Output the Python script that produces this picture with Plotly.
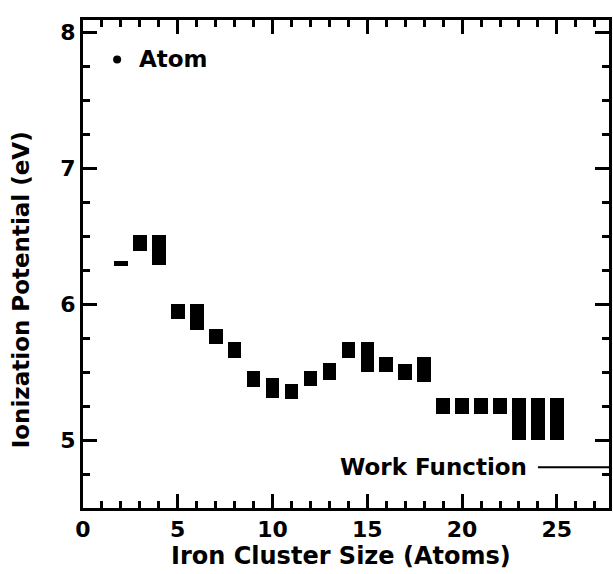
import plotly.graph_objects as go

# Data
cluster_size = [2, 3, 4, 5, 6, 7, 8, 9, 10, 11, 12, 13, 14, 15, 16, 17, 18, 19, 20, 21, 22, 23, 24, 25]
ip_low = [6.28, 6.39, 6.29, 5.89, 5.81, 5.71, 5.60, 5.39, 5.31, 5.30, 5.40, 5.445, 5.60, 5.50, 5.50, 5.44, 5.43,
          5.19, 5.19, 5.19, 5.19, 5.00, 5.00, 5.00]
ip_high = [6.32, 6.51, 6.51, 6.00, 6.00, 5.82, 5.72, 5.51, 5.46, 5.41, 5.51, 5.57, 5.72, 5.72, 5.61, 5.56, 5.61,
           5.31, 5.31, 5.31, 5.31, 5.31, 5.31, 5.31]
atom_marker_x = [1.8]
atom_marker_y = [7.80]
atom_label = "Atom"
work_function = 4.80
work_function_x = [24.0, 27.75]
work_function_label = "Work Function"
x_ticks = [0, 5, 10, 15, 20, 25]
y_ticks = [5, 6, 7, 8]
x_range = [0, 27.75]
y_range = [4.5, 8.09]

FONT = "DejaVu Sans"

fig = go.Figure()

fig.add_trace(go.Bar(
    x=cluster_size,
    y=[h - l for h, l in zip(ip_high, ip_low)],
    base=ip_low,
    width=0.72,
    marker=dict(color="black", line=dict(width=0)),
    showlegend=False,
))

fig.add_trace(go.Scatter(
    x=atom_marker_x, y=atom_marker_y, mode="markers",
    marker=dict(color="black", size=8), showlegend=False,
))

fig.add_trace(go.Scatter(
    x=work_function_x, y=[work_function] * len(work_function_x), mode="lines",
    line=dict(color="black", width=2), showlegend=False, cliponaxis=False,
))

fig.add_annotation(x=2.83, y=atom_marker_y[0], xref="x", yref="y", text=f"<b>{atom_label}</b>",
                   showarrow=False, xanchor="left", yanchor="middle",
                   font=dict(family=FONT, size=23, color="black"))
fig.add_annotation(x=23.55, y=work_function, xref="x", yref="y", text=f"<b>{work_function_label}</b>",
                   showarrow=False, xanchor="right", yanchor="middle",
                   font=dict(family=FONT, size=23, color="black"))

# Axis titles
fig.add_annotation(x=0.4906, y=-0.098, xref="paper", yref="paper",
                   text="<b>Iron Cluster Size (Atoms)</b>", showarrow=False,
                   xanchor="center", yanchor="middle",
                   font=dict(family=FONT, size=24, color="black"))
fig.add_annotation(x=-0.119, y=0.447, xref="paper", yref="paper",
                   text="<b>Ionization Potential (eV)</b>", showarrow=False, textangle=-90,
                   xanchor="center", yanchor="middle",
                   font=dict(family=FONT, size=23, color="black"))

axis_common = dict(
    showline=True, linecolor="black", linewidth=3, mirror="allticks",
    ticks="inside", tickcolor="black", tickwidth=2.5, ticklen=14,
    showgrid=False, zeroline=False,
    tickfont=dict(family=FONT, size=22, color="black"),
)

fig.update_layout(
    xaxis=dict(range=x_range, tickvals=x_ticks, ticktext=[f"<b>{v}</b>" for v in x_ticks],
               minor=dict(dtick=1, tick0=0, ticks="inside", ticklen=7, tickwidth=2.5,
                          tickcolor="black", showgrid=False),
               **axis_common),
    yaxis=dict(range=y_range, tickvals=y_ticks, ticktext=[f"<b>{v}</b>" for v in y_ticks],
               minor=dict(dtick=0.25, tick0=4.5, ticks="inside", ticklen=7, tickwidth=2.5,
                          tickcolor="black", showgrid=False),
               **axis_common),
)

fig.update_layout(
    width=613, height=574,
    margin=dict(l=83, r=1, t=20, b=66),
    plot_bgcolor="white", paper_bgcolor="white",
    bargap=0,
)

fig.write_html("out.html")
